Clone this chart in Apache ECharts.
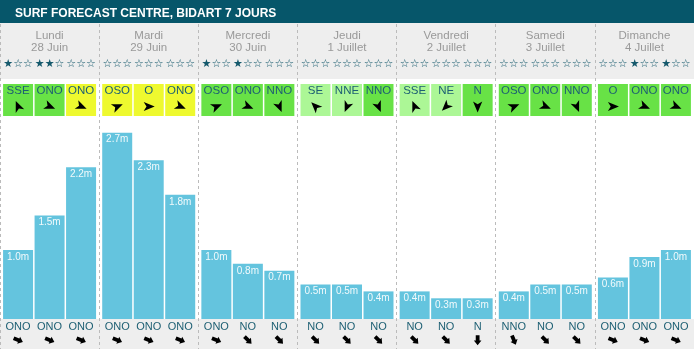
<!DOCTYPE html>
<html>
<head>
<meta charset="utf-8">
<script src="https://cdn.jsdelivr.net/npm/echarts@6/dist/echarts.min.js"></script>
<style>html,body{margin:0;padding:0;background:#fff}#c{width:694px;height:349px}</style>
</head>
<body>
<div id="c"></div>
<script>
// ---- data ----
const TITLE = 'SURF FORECAST CENTRE, BIDART 7 JOURS';
const DAYS = ['Lundi', 'Mardi', 'Mercredi', 'Jeudi', 'Vendredi', 'Samedi', 'Dimanche'];
const DATES = ['28 Juin', '29 Juin', '30 Juin', '1 Juillet', '2 Juillet', '3 Juillet', '4 Juillet'];
// wave height (m) for the 3 time slots of each day
const WAVE_SLOT1 = [1.0, 2.7, 1.0, 0.5, 0.4, 0.4, 0.6];
const WAVE_SLOT2 = [1.5, 2.3, 0.8, 0.5, 0.3, 0.5, 0.9];
const WAVE_SLOT3 = [2.2, 1.8, 0.7, 0.4, 0.3, 0.5, 1.0];
// per slot (day-major, 21 entries)
const STARS = [1,2,0, 0,0,0, 1,1,0, 0,0,0, 0,0,0, 0,0,0, 0,1,1];
const WIND_DIR = ['SSE','ONO','ONO', 'OSO','O','ONO', 'OSO','ONO','NNO', 'SE','NNE','NNO',
                  'SSE','NE','N', 'OSO','ONO','NNO', 'O','ONO','ONO'];
const WIND_QUALITY = ['good','good','fair', 'fair','fair','fair', 'good','good','good', 'light','light','good',
                      'light','light','good', 'good','good','good', 'good','good','good'];
const SWELL_DIR = ['ONO','ONO','ONO', 'ONO','ONO','ONO', 'ONO','NO','NO', 'NO','NO','NO',
                   'NO','NO','N', 'NNO','NO','NO', 'ONO','ONO','ONO'];

// ---- styling ----
const COMPASS = {N:0,NNE:22.5,NE:45,ENE:67.5,E:90,ESE:112.5,SE:135,SSE:157.5,S:180,SSO:202.5,SO:225,OSO:247.5,O:270,ONO:292.5,NO:315,NNO:337.5};
const QUALITY_COLOR = {good:'#68e246', fair:'#eef92f', light:'#acf796'};
const FONT = '"Liberation Sans", Arial, sans-serif';
const TEAL = '#1d5f73';
const BAR_W = 30, GAP = 1.5, PITCH = BAR_W + GAP;

const DART = [[0,-6],[4.6,5],[0,2.2],[-4.6,5]];
const BLOCK = [[0,-5.2],[3.8,-0.6],[1.9,-0.6],[1.9,4.8],[-1.9,4.8],[-1.9,-0.6],[-3.8,-0.6]];
function rot(dirFrom){ return -((COMPASS[dirFrom] + 180) % 360) * Math.PI / 180; }

const chart = echarts.init(document.getElementById('c'), null, {renderer:'canvas'});

function barSeries(vals){
  return {
    type:'bar', xAxisIndex:0, yAxisIndex:0, data: vals, barWidth: BAR_W, barGap: (GAP/BAR_W*100)+'%',
    itemStyle:{color:'#64c4de'}, silent:true,
    label:{show:true, position:'insideTop', distance:2, color:'#f2fafc', fontSize:10, fontFamily:FONT,
           formatter: p => p.value.toFixed(1) + 'm'}
  };
}

const slotData = [];
for (let d = 0; d < DAYS.length; d++) for (let s = 0; s < 3; s++) slotData.push([d, 0]);

function renderItem(params, api){
  const i = params.dataIndex, d = Math.floor(i/3), s = i % 3;
  const c = api.coord([d, 0]);
  const cx = c[0] + (s - 1) * PITCH, base = c[1];
  const n = STARS[i];
  return {type:'group', children:[
    {type:'text', style:{text:'★'.repeat(n) + '☆'.repeat(3-n), x:cx, y:64.5, align:'center', verticalAlign:'middle',
      fill:'#15596c', fontSize:11, fontFamily:'"DejaVu Sans"'}},
    {type:'rect', shape:{x:cx - BAR_W/2, y:84, width:BAR_W, height:32}, style:{fill:QUALITY_COLOR[WIND_QUALITY[i]]}},
    {type:'text', style:{text:WIND_DIR[i], x:cx, y:91, align:'center', verticalAlign:'middle', fill:TEAL, fontSize:11.5, fontFamily:FONT}},
    {type:'polygon', x:cx, y:106.5, rotation:rot(WIND_DIR[i]), shape:{points:DART}, style:{fill:'#000'}},
    {type:'text', style:{text:SWELL_DIR[i], x:cx, y:base + 7.5, align:'center', verticalAlign:'middle', fill:TEAL, fontSize:11, fontFamily:FONT}},
    {type:'polygon', x:cx, y:base + 21, rotation:rot(SWELL_DIR[i]), shape:{points:BLOCK}, style:{fill:'#000'}}
  ]};
}

chart.setOption({
  animation:false,
  title:{text:TITLE, left:10, top:3, textStyle:{color:'#ffffff', fontSize:12, fontWeight:'bold', fontFamily:FONT}},
  graphic:[
    {type:'rect', z:0, shape:{x:0, y:0, width:694, height:23}, style:{fill:'#06566a'}},
    {type:'rect', z:0, shape:{x:0, y:23, width:694, height:56}, style:{fill:'#eeeeee'}},
    {type:'rect', z:0, shape:{x:0, y:319, width:694, height:30}, style:{fill:'#eeeeee'}}
  ],
  grid:[
    {left:-2, right:-2, top:43, bottom:30},
    {left:-2, right:-2, top:24, bottom:0}
  ],
  xAxis:[
    {type:'category', gridIndex:0, data:DAYS, show:false},
    {type:'category', gridIndex:1, data:DAYS, position:'top', z:5,
     axisLine:{show:false}, axisTick:{show:false},
     axisLabel:{inside:true, margin:6, interval:0, color:'#999999', fontSize:11.5, lineHeight:12, fontFamily:FONT,
                formatter:(v, idx) => DAYS[idx] + '\n' + DATES[idx]},
     splitLine:{show:true, interval:0, lineStyle:{color:'#bbbbbb', width:1, type:[3,3]}}}
  ],
  yAxis:[
    {type:'value', gridIndex:0, min:0, max:4, show:false},
    {type:'value', gridIndex:1, min:0, max:1, show:false}
  ],
  series:[
    barSeries(WAVE_SLOT1), barSeries(WAVE_SLOT2), barSeries(WAVE_SLOT3),
    {type:'custom', xAxisIndex:0, yAxisIndex:0, data:slotData, renderItem:renderItem, silent:true, clip:false, z:4}
  ]
});
</script>
</body>
</html>
